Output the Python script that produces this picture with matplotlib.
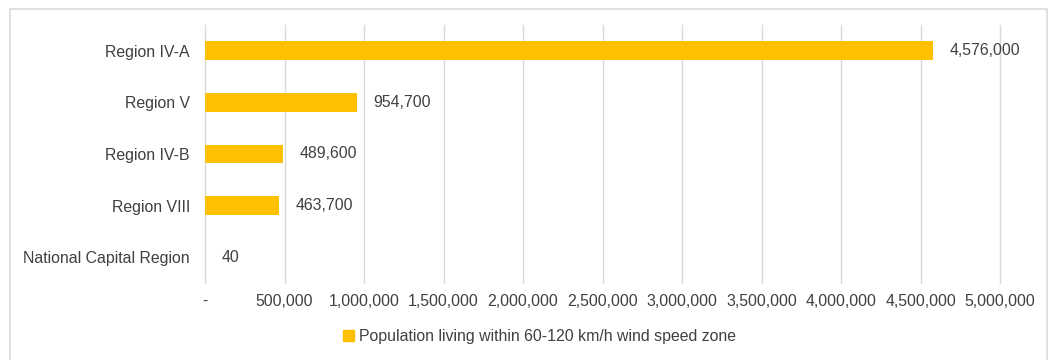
import matplotlib
matplotlib.use('Agg')
import matplotlib.pyplot as plt
from matplotlib.patches import Rectangle, Patch

# Values
regions = ["Region IV-A", "Region V", "Region IV-B", "Region VIII", "National Capital Region"]
population = [4576000, 954700, 489600, 463700, 40]
x_ticks = [0, 500000, 1000000, 1500000, 2000000, 2500000, 3000000, 3500000, 4000000, 4500000, 5000000]
legend_label = "Population living within 60-120 km/h wind speed zone"

bar_color = "#FFC000"
text_color = "#404040"
fs = 11.4

plt.rcParams['font.family'] = ['Liberation Sans', 'DejaVu Sans']

fig = plt.figure(figsize=(10.52, 3.6), dpi=100)
ax = fig.add_axes([0.1949, 0.2139, 0.7557, 0.7167])

# outer chart border
fig.patches.append(Rectangle((10 / 1052, -0.05), 1037 / 1052, 1.04 - 5 / 360,
                             transform=fig.transFigure, fill=False,
                             edgecolor="#d9d9d9", linewidth=1.2))

pos = list(range(len(regions)))
ax.barh(pos, population, height=0.36, color=bar_color, zorder=3)
ax.set_ylim(len(regions) - 0.5, -0.5)
ax.set_xlim(0, 5000000)

for p, v in zip(pos, population):
    ax.annotate(f"{v:,}", (v, p), xytext=(12, 0), textcoords="offset points",
                va="center", ha="left", fontsize=fs, color=text_color)

ax.set_yticks(pos)
ax.set_yticklabels(regions, fontsize=fs, color=text_color)
ax.set_xticks(x_ticks)
ax.set_xticklabels(["-"] + [f"{t:,}" for t in x_ticks[1:]], fontsize=fs, color=text_color)
ax.tick_params(length=0)
ax.tick_params(axis='x', pad=8)
ax.tick_params(axis='y', pad=11)

ax.grid(axis='x', color="#d9d9d9", linewidth=1, zorder=0)
for gl in ax.get_xgridlines():
    gl.set_clip_on(False)
for s in ax.spines.values():
    s.set_visible(False)

fig.legend(handles=[Patch(color=bar_color)], labels=[legend_label],
           loc="center", bbox_to_anchor=(0.513, 0.064), frameon=False,
           fontsize=fs, handlelength=0.7, handleheight=0.7, handletextpad=0.3,
           labelcolor=text_color)

fig.savefig("out.png", dpi=100)
